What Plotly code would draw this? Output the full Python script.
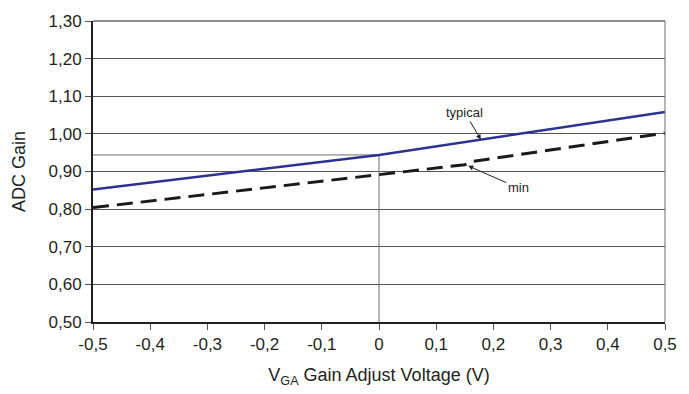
import plotly.graph_objects as go

# Data
typical_x = [-0.5, 0.0, 0.5]
typical_y = [0.852, 0.944, 1.058]
min_x = [-0.5, 0.0, 0.15, 0.16, 0.5]
min_y = [0.804, 0.891, 0.918, 0.926, 1.002]

x_tickvals = [-0.5, -0.4, -0.3, -0.2, -0.1, 0.0, 0.1, 0.2, 0.3, 0.4, 0.5]
x_ticktext = ["-0,5", "-0,4", "-0,3", "-0,2", "-0,1", "0", "0,1", "0,2", "0,3", "0,4", "0,5"]
y_tickvals = [0.5, 0.6, 0.7, 0.8, 0.9, 1.0, 1.1, 1.2, 1.3]
y_ticktext = ["0,50", "0,60", "0,70", "0,80", "0,90", "1,00", "1,10", "1,20", "1,30"]

FONT = "Liberation Sans, Arial, sans-serif"
TXT = "#231f20"

fig = go.Figure()

# reference lines at V=0 for the typical value
ref_val = typical_y[typical_x.index(0.0)]
fig.add_trace(go.Scatter(x=[x_tickvals[0], 0.0, 0.0], y=[ref_val, ref_val, y_tickvals[0]],
                         mode="lines", line=dict(color="#6d6d6d", width=1),
                         hoverinfo="skip", showlegend=False))

fig.add_trace(go.Scatter(x=min_x, y=min_y, mode="lines", name="min",
                         line=dict(color="#1a1a1a", width=3, dash="16px,8px"),
                         showlegend=False))
fig.add_trace(go.Scatter(x=typical_x, y=typical_y, mode="lines", name="typical",
                         line=dict(color="#2e3192", width=2.5),
                         showlegend=False))

# frame (top and right borders)
fig.add_shape(type="line", xref="paper", yref="paper", x0=0, x1=1, y0=1, y1=1,
              line=dict(color="#231f20", width=1))
fig.add_shape(type="line", xref="paper", yref="paper", x0=1, x1=1, y0=0, y1=1,
              line=dict(color="#6d6d6d", width=1))

fig.add_annotation(x=0.178, y=0.985, text="typical", showarrow=True,
                   ax=-16, ay=-27, arrowhead=2, arrowsize=1, arrowwidth=1,
                   arrowcolor=TXT, font=dict(size=13, color=TXT, family=FONT))
fig.add_annotation(x=0.156, y=0.915, text="min", showarrow=True,
                   ax=50, ay=22, arrowhead=2, arrowsize=1, arrowwidth=1,
                   arrowcolor=TXT, font=dict(size=13, color=TXT, family=FONT))

fig.update_layout(
    width=689, height=394,
    margin=dict(l=93, r=17, t=18, b=69),
    paper_bgcolor="white", plot_bgcolor="white",
    font=dict(family=FONT, size=17, color=TXT),
    xaxis=dict(range=[-0.5, 0.5], tickvals=x_tickvals, ticktext=x_ticktext,
               showgrid=False, zeroline=False,
               showline=True, linecolor="#231f20", linewidth=2,
               ticks="outside", ticklen=6, tickcolor="#555555", tickwidth=1,
               tickfont=dict(size=17),
               title=dict(text="V<sub>GA</sub> Gain Adjust Voltage (V)", font=dict(size=18), standoff=15)),
    yaxis=dict(range=[0.5, 1.3], tickvals=y_tickvals, ticktext=y_ticktext,
               showgrid=True, gridcolor="#555555", gridwidth=1, zeroline=False,
               showline=True, linecolor="#231f20", linewidth=2,
               ticks="outside", ticklen=6, tickcolor="#555555", tickwidth=1,
               tickfont=dict(size=17),
               title=dict(text="ADC Gain", font=dict(size=18), standoff=18)),
)

fig.write_html(
    "out.html",
    config={"displayModeBar": False},
    post_script="document.body.style.margin='0';document.documentElement.style.overflow='hidden';document.body.style.overflow='hidden';",
)
